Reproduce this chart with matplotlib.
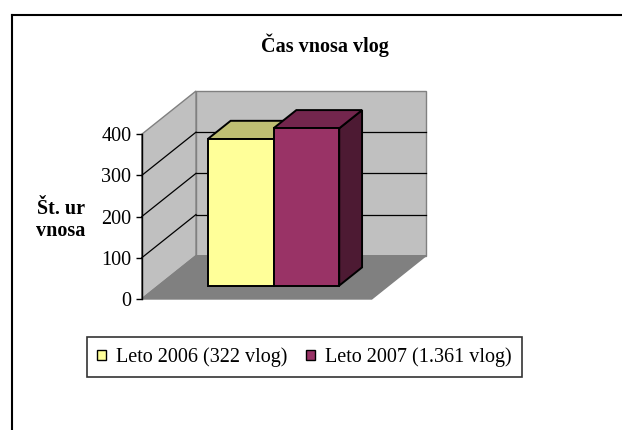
"""Excel-style 3D column chart: Čas vnosa vlog."""
import matplotlib
matplotlib.use('Agg')
import matplotlib.pyplot as plt
from matplotlib.patches import Polygon, Patch
from matplotlib.lines import Line2D

# Data
series_labels = ['Leto 2006 (322 vlog)', 'Leto 2007 (1.361 vlog)']
series_values = [356, 382]
series_colors = ['#FFFF99', '#993366']
y_ticks = [0, 100, 200, 300, 400]
title = 'Čas vnosa vlog'
y_label = 'Št. ur\nvnosa'

FONT = ['Liberation Serif', 'DejaVu Serif']
FS = 14.5
W, H = 622, 430


def shade(hex_color, f):
    r, g, b = matplotlib.colors.to_rgb(hex_color)
    return (r * f, g * f, b * f)


fig = plt.figure(figsize=(W / 100, H / 100), dpi=100)
fig.patch.set_facecolor('white')

# front plane of the plot area (pixels)
left_px, bottom_px, width_px, height_px = 141.7, 299, 230, 164.7
ax = fig.add_axes([left_px / W, 1 - bottom_px / H, width_px / W, height_px / H])
ax.set_xlim(0, 1)
ax.set_ylim(0, 400)
ax.patch.set_visible(False)

# depth offset (full depth) in data units
DX = 54.3 / width_px
DY = 43.3 / height_px * 400
ymax = 400

# walls and floor
wall_kw = dict(edgecolor='#808080', linewidth=1.0, clip_on=False)
ax.add_patch(Polygon([(DX, DY), (1 + DX, DY), (1 + DX, ymax + DY), (DX, ymax + DY)],
                     facecolor='#C0C0C0', zorder=1, **wall_kw))
ax.add_patch(Polygon([(0, 0), (DX, DY), (DX, ymax + DY), (0, ymax)],
                     facecolor='#C0C0C0', zorder=1, **wall_kw))
ax.add_patch(Polygon([(0, 0), (1, 0), (1 + DX, DY), (DX, DY)],
                     facecolor='#808080', zorder=1, **wall_kw))

# gridlines on back and left walls
for v in y_ticks[1:-1]:
    ax.plot([DX, 1 + DX], [v + DY, v + DY], color='black', lw=0.9, zorder=2, clip_on=False)
    ax.plot([0, DX], [v, v + DY], color='black', lw=0.9, zorder=2, clip_on=False)

# bars
bar_w = 1 / (len(series_values) + 1.5)
d0, d1 = 0.31, 0.73
x_start = 0.5 - bar_w * len(series_values) / 2
edge = dict(edgecolor='black', linewidth=1.4, clip_on=False, joinstyle='miter')
for i, (val, col) in enumerate(zip(series_values, series_colors)):
    x0 = x_start + i * bar_w
    x1 = x0 + bar_w
    fx, fy = d0 * DX, d0 * DY
    bx, by = d1 * DX, d1 * DY
    z = 3 + i
    # right side
    ax.add_patch(Polygon([(x1 + fx, fy), (x1 + bx, by), (x1 + bx, val + by), (x1 + fx, val + fy)],
                         facecolor=shade(col, 0.5), zorder=z, **edge))
    # top
    ax.add_patch(Polygon([(x0 + fx, val + fy), (x1 + fx, val + fy), (x1 + bx, val + by), (x0 + bx, val + by)],
                         facecolor=shade(col, 0.75), zorder=z, **edge))
    # front
    ax.add_patch(Polygon([(x0 + fx, fy), (x1 + fx, fy), (x1 + fx, val + fy), (x0 + fx, val + fy)],
                         facecolor=col, zorder=z, **edge))

# axis
for s in ['top', 'right', 'bottom']:
    ax.spines[s].set_visible(False)
ax.spines['left'].set_linewidth(1.0)
ax.spines['left'].set_zorder(5)
ax.set_xticks([])
ax.set_yticks(y_ticks)
ax.set_yticklabels([str(t) for t in y_ticks], fontfamily=FONT, fontsize=FS)
ax.tick_params(axis='y', direction='out', length=4.3, width=1.0, pad=3.2)

# texts
fig.text(325 / W, 1 - 45 / H, title, ha='center', va='center',
         fontfamily=FONT, fontsize=FS, fontweight='bold')
fig.text(61 / W, 1 - 220 / H, y_label, ha='center', va='center',
         fontfamily=FONT, fontsize=FS, fontweight='bold', linespacing=1.15)

# legend
handles = [Patch(facecolor=c, edgecolor='black', linewidth=1.0) for c in series_colors]
leg = fig.legend(handles, series_labels, loc='center', ncol=2,
                 bbox_to_anchor=(304.5 / W, 1 - 357.3 / H),
                 prop={'family': FONT, 'size': FS}, frameon=True, fancybox=False,
                 handlelength=0.45, handleheight=0.45, handletextpad=0.5,
                 columnspacing=0.9, borderpad=0.5)
leg.get_frame().set_edgecolor('black')
leg.get_frame().set_linewidth(1.2)

# outer chart border (left and top visible)
fig.add_artist(Line2D([12 / W, 12 / W], [0, 1 - 15 / H], color='black', lw=1.5))
fig.add_artist(Line2D([12 / W, 1], [1 - 15 / H, 1 - 15 / H], color='black', lw=1.5))

fig.savefig('out.png', dpi=100, facecolor='white')
plt.close(fig)
